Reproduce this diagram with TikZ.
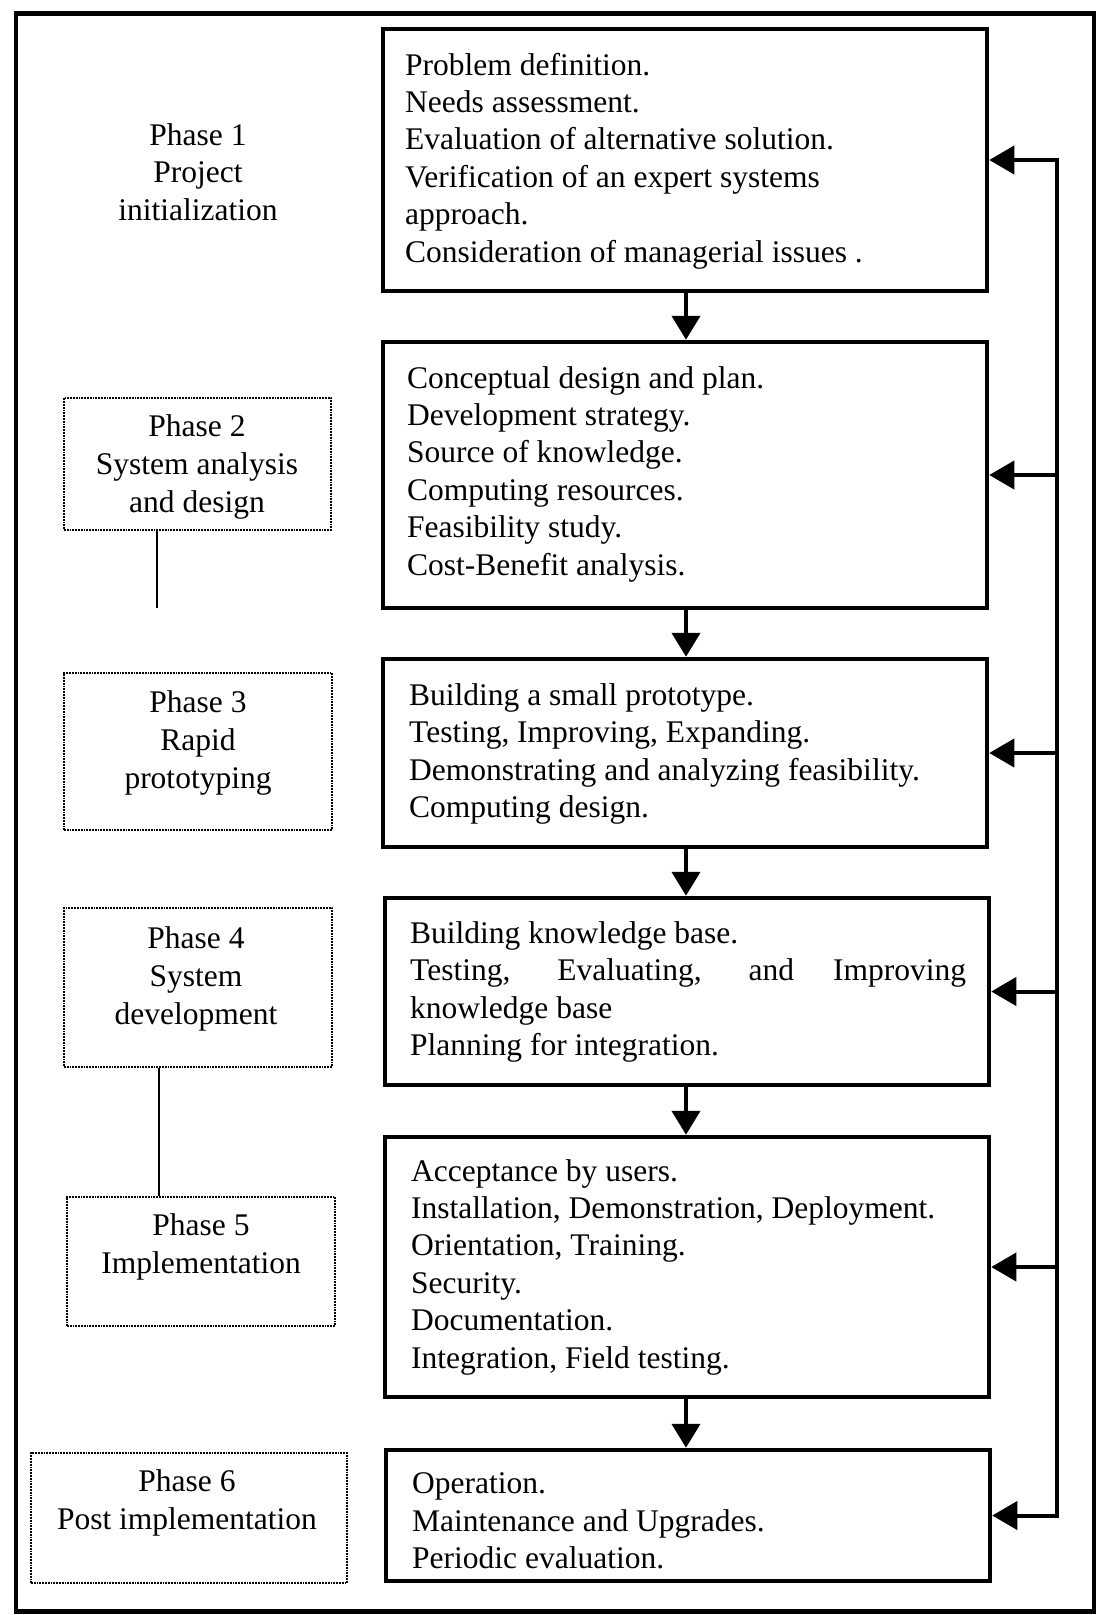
\documentclass[tikz,border=0pt]{standalone}
\usepackage{fontspec}
\setmainfont{Liberation Serif}
\usetikzlibrary{arrows.meta,calc}
\begin{document}
\begin{tikzpicture}[x=1pt,y=-1pt,
  stage/.style={draw, line width=4.5pt, rectangle, minimum width=604pt, inner sep=0pt},
  phasebox/.style={draw, densely dotted, line width=1.8pt, rectangle, inner sep=0pt},
  txt/.style={font=\fontsize{31.5}{37.4}\selectfont, align=left, anchor=west, inner sep=0pt},
  ptxt/.style={font=\fontsize{31.5}{37.6}\selectfont, align=center, inner sep=0pt},
  arr/.style={line width=4.5pt, -{Triangle[length=24pt,width=28pt]}},
  fb/.style={line width=4pt},
  thinline/.style={line width=1.6pt}
]
\useasboundingbox (0,0) rectangle (1097,1615);
\node[draw, line width=4.5pt, rectangle, minimum width=1078pt, minimum height=1598pt, inner sep=0pt] (frame) at (555,812.5) {};

% stage boxes
\node[stage, minimum height=262pt] (b1) at (685,160) {};
\node[stage, minimum height=266pt] (b2) at (685,475) {};
\node[stage, minimum height=188pt] (b3) at (685,753) {};
\node[stage, minimum height=187pt] (b4) at (687,991.5) {};
\node[stage, minimum height=260pt] (b5) at (687,1267) {};
\node[stage, minimum height=131pt] (b6) at (688,1515.5) {};

% stage texts
\node[txt] (t1) at (405,161) {Problem definition.\\Needs assessment.\\Evaluation of alternative solution.\\Verification of an expert systems\\approach.\\Consideration of managerial issues .};
\node[txt] (t2) at (407,474) {Conceptual design and plan.\\Development strategy.\\Source of knowledge.\\Computing resources.\\Feasibility study.\\Cost-Benefit analysis.};
\node[txt] (t3) at (409,754) {Building a small prototype.\\Testing, Improving, Expanding.\\Demonstrating and analyzing feasibility.\\Computing design.};
\node[txt] (t4) at (410,992) {Building knowledge base.\\\makebox[556pt][s]{Testing, Evaluating, and Improving}\\knowledge base\\Planning for integration.};
\node[txt] (t5) at (411,1267) {Acceptance by users.\\Installation, Demonstration, Deployment.\\Orientation, Training.\\Security.\\Documentation.\\Integration, Field testing.};
\node[txt] (t6) at (412,1521) {Operation.\\Maintenance and Upgrades.\\Periodic evaluation.};

% down arrows
\foreach \a/\b in {b1/b2,b2/b3,b3/b4,b4/b5,b5/b6}
  \draw[arr] (\a.south -| 686,0) -- (\b.north -| 686,0);

% feedback
\coordinate (fbx) at (1057,0);
\draw[fb, {Triangle[length=25pt,width=28pt]}-{Triangle[length=25pt,width=28pt]}] (b1.east) -- (b1.east -| fbx) -- (b6.east -| fbx) -- (b6.east);
\foreach \b in {b2,b3,b4,b5}
  \draw[fb, -{Triangle[length=25pt,width=28pt]}] (\b.east -| fbx) -- (\b.east);

% phase labels
\node[ptxt] (p1t) at (198,172) {Phase 1\\Project\\initialization};
\node[phasebox, minimum width=267pt, minimum height=132pt] (p2) at (197.5,464) {};
\node[ptxt] (p2t) at (197,467) {Phase 2\\System analysis\\and design};
\node[phasebox, minimum width=268pt, minimum height=157pt] (p3) at (198,751.5) {};
\node[ptxt] (p3t) at (198,743) {Phase 3\\Rapid\\prototyping};
\node[phasebox, minimum width=268pt, minimum height=159pt] (p4) at (198,987.5) {};
\node[ptxt] (p4t) at (196,979) {Phase 4\\System\\development};
\node[phasebox, minimum width=268pt, minimum height=129pt] (p5) at (201,1261.5) {};
\node[ptxt] (p5t) at (201,1247) {Phase 5\\Implementation};
\node[phasebox, minimum width=316pt, minimum height=130pt] (p6) at (189,1518) {};
\node[ptxt] (p6t) at (187,1503) {Phase 6\\Post implementation};

% thin connectors
\coordinate (p2end) at (157,608);
\draw[thinline] (p2.south -| p2end) -- (p2end);
\coordinate (c45) at (159,0);
\draw[thinline] (p4.south -| c45) -- (p5.north -| c45);
\end{tikzpicture}
\end{document}
